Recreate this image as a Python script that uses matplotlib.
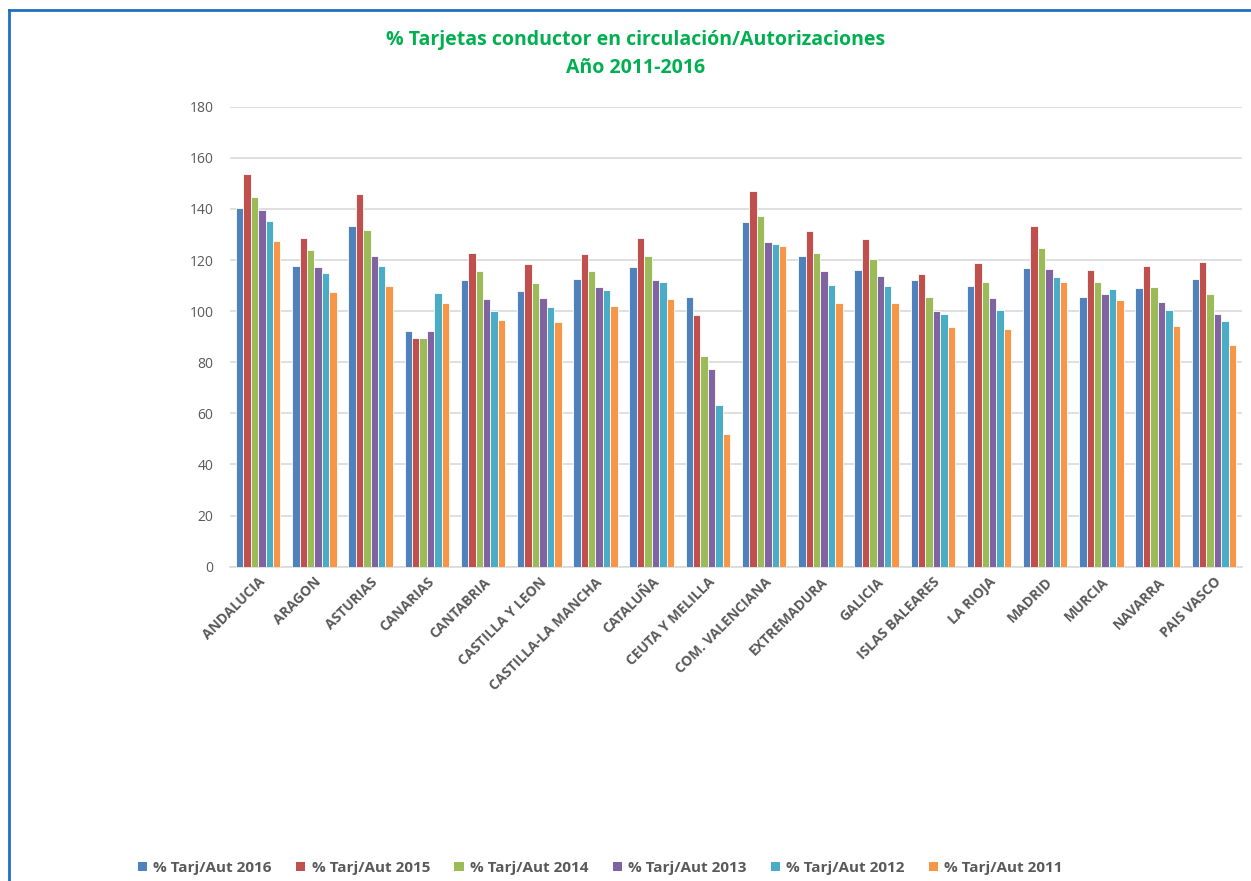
import numpy as np
import matplotlib.pyplot as plt
from matplotlib.lines import Line2D
from matplotlib.patches import Patch

plt.rcParams['font.family'] = ['Open Sans', 'DejaVu Sans']

regiones = ['ANDALUCIA', 'ARAGON', 'ASTURIAS', 'CANARIAS', 'CANTABRIA', 'CASTILLA Y LEON',
            'CASTILLA-LA MANCHA', 'CATALUÑA', 'CEUTA Y MELILLA', 'COM. VALENCIANA',
            'EXTREMADURA', 'GALICIA', 'ISLAS BALEARES', 'LA RIOJA', 'MADRID', 'MURCIA',
            'NAVARRA', 'PAIS VASCO']

aut_2016 = [140.3, 117.8, 133.4, 92.1, 112.2, 107.8, 112.4, 117.3, 105.4, 134.9,
            121.6, 116.0, 112.2, 110.0, 116.9, 105.7, 109.2, 112.4]
aut_2015 = [153.7, 128.7, 145.7, 89.6, 122.7, 118.4, 122.2, 128.5, 98.4, 147.2,
            131.3, 128.2, 114.7, 118.7, 133.4, 116.0, 117.8, 119.1]
aut_2014 = [144.8, 123.8, 131.9, 89.3, 115.6, 110.9, 115.6, 121.6, 82.3, 137.2,
            122.9, 120.3, 105.7, 111.5, 124.7, 111.5, 109.3, 106.6]
aut_2013 = [139.4, 117.3, 121.6, 92.1, 104.9, 105.0, 109.4, 112.2, 77.5, 126.9,
            115.6, 113.7, 99.9, 105.3, 116.4, 106.8, 103.5, 98.8]
aut_2012 = [135.4, 115.0, 117.5, 107.1, 100.2, 101.5, 108.1, 111.3, 63.1, 126.3,
            110.4, 109.7, 98.8, 100.6, 113.5, 108.8, 100.6, 96.3]
aut_2011 = [127.6, 107.5, 110.0, 103.3, 96.4, 95.6, 102.1, 104.6, 51.9, 125.3,
            103.1, 103.1, 93.7, 93.0, 111.3, 104.4, 94.3, 86.9]

series_labels = ['% Tarj/Aut 2016', '% Tarj/Aut 2015', '% Tarj/Aut 2014',
                 '% Tarj/Aut 2013', '% Tarj/Aut 2012', '% Tarj/Aut 2011']
colors = ['#4F81BD', '#C0504D', '#9BBB59', '#8064A2', '#4BACC6', '#F79646']
series = [aut_2016, aut_2015, aut_2014, aut_2013, aut_2012, aut_2011]

txt_gray = '#595959'

fig = plt.figure(figsize=(12.51, 8.81), dpi=100)
ax = fig.add_axes([0.1839, 0.3568, 0.8089, 0.5221])

x = np.arange(len(regiones))
w = 0.132
for i, (vals, lab, c) in enumerate(zip(series, series_labels, colors)):
    ax.bar(x + (i - 2.5) * w, vals, width=w, color=c, edgecolor='white',
           linewidth=0.6, label=lab, zorder=3)

ax.set_xlim(-0.5, len(regiones) - 0.5)
ax.set_ylim(0, 180)
ax.set_yticks(range(0, 181, 20))
ax.yaxis.grid(True, color='#D9D9D9', linewidth=1.2, zorder=0)
ax.set_axisbelow(True)
for s in ['top', 'right', 'left']:
    ax.spines[s].set_visible(False)
ax.spines['bottom'].set_color('#D9D9D9')
ax.spines['bottom'].set_linewidth(1.2)
ax.tick_params(axis='both', length=0)
ax.tick_params(axis='y', labelsize=10, labelcolor=txt_gray, pad=12)

ax.set_xticks(x)
ax.set_xticklabels(regiones, rotation=45, ha='right', rotation_mode='anchor',
                   fontsize=10, fontweight='bold', color=txt_gray)
ax.tick_params(axis='x', pad=6)

fig.text(0.508, 0.966, '% Tarjetas conductor en circulación/Autorizaciones\nAño 2011-2016',
         ha='center', va='top', fontsize=14, fontweight='bold', color='#00B050',
         linespacing=1.55)

handles = [Patch(facecolor=c, edgecolor='none') for c in colors]
leg = fig.legend(handles, series_labels, loc='center', bbox_to_anchor=(0.48, 0.015),
                 ncol=6, frameon=False, fontsize=11, handlelength=0.6, handleheight=0.6,
                 handletextpad=0.4, columnspacing=1.6)
for t in leg.get_texts():
    t.set_color(txt_gray)
    t.set_fontweight('bold')

# chart frame (left and top edges visible)
fig.add_artist(Line2D([0.0068, 0.0068], [0.0, 0.9887], color='#1F6FC0', linewidth=2))
fig.add_artist(Line2D([0.0068, 1.0], [0.9887, 0.9887], color='#1F6FC0', linewidth=2))

fig.savefig('out.png', dpi=100)
